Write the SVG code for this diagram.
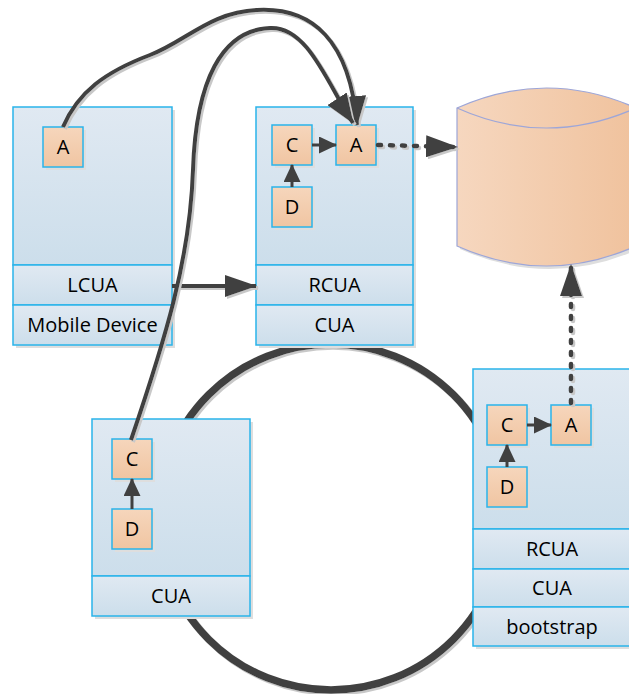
<svg xmlns="http://www.w3.org/2000/svg" width="629" height="694" viewBox="0 0 629 694">
<style>
.box{fill:url(#gBlue);stroke:#2ab4ea;stroke-width:1.5}
.sh{fill:#dedede}
.sm{fill:url(#gOrange);stroke:#2ab4ea;stroke-width:1.5}
.t{font-family:"Open Sans","DejaVu Sans",sans-serif;font-size:20px;fill:#000;text-anchor:middle}
.c{fill:none;stroke:#404040;stroke-width:4;filter:url(#ds)}
.d{fill:none;stroke:#404040;stroke-width:4.5;stroke-dasharray:3 9;stroke-linecap:round;filter:url(#ds)}
.s{fill:none;stroke:#404040;stroke-width:3}
</style>
<defs>
<linearGradient id="gBlue" x1="0" y1="0" x2="0" y2="1"><stop offset="0" stop-color="#e0e9f2"/><stop offset="1" stop-color="#ccdeeb"/></linearGradient>
<linearGradient id="gOrange" x1="0" y1="0" x2="0" y2="1"><stop offset="0" stop-color="#f6d6bc"/><stop offset="1" stop-color="#f0c5a2"/></linearGradient>
<linearGradient id="gCyl" x1="0" y1="0" x2="1" y2="0"><stop offset="0" stop-color="#f6d7bf"/><stop offset="1" stop-color="#f0c29d"/></linearGradient>
<filter id="ds" filterUnits="userSpaceOnUse" x="0" y="0" width="629" height="694"><feDropShadow dx="2" dy="2" stdDeviation="0.6" flood-color="#c8c8c8" flood-opacity="1"/></filter>
<marker id="big" markerUnits="userSpaceOnUse" markerWidth="32" markerHeight="22" refX="31" refY="11" orient="auto" viewBox="0 0 32 22"><path d="M0,0 L32,11 L0,22 z" fill="#404040"/></marker>
<marker id="mid" markerUnits="userSpaceOnUse" markerWidth="30" markerHeight="23" refX="29" refY="11.5" orient="auto" viewBox="0 0 30 23"><path d="M0,0 L30,11.5 L0,23 z" fill="#404040"/></marker>
<marker id="small" markerUnits="userSpaceOnUse" markerWidth="18" markerHeight="17" refX="17" refY="8.5" orient="auto" viewBox="0 0 18 17"><path d="M0,0 L18,8.5 L0,17 z" fill="#404040"/></marker>
</defs>

<g id="ring">
<circle cx="331" cy="517" r="173" fill="none" stroke="#404040" stroke-width="7.5" filter="url(#ds)"/>
</g>

<g id="database">
<path d="M460,111 Q549.5,71 639,111 L639,249 Q549.5,289 460,249 Z" fill="#dedede"/>
<path d="M457,108 Q546.5,68 636,108 L636,246 Q546.5,286 457,246 Z" fill="url(#gCyl)" stroke="#9da6d8" stroke-width="1.2"/>
<path d="M457,108 Q546.5,148 636,108" fill="none" stroke="#9da6d8" stroke-width="1.2"/>
</g>

<g id="mobile-device">
<rect class="sh" x="16" y="110" width="159" height="238"/>
<rect class="box" x="13" y="107" width="159" height="158"/>
<rect class="box" x="13" y="265" width="159" height="40"/>
<rect class="box" x="13" y="305" width="159" height="40"/>
<text class="t" x="92.5" y="292">LCUA</text>
<text class="t" x="92.5" y="332">Mobile Device</text>
<rect class="sh" x="46" y="130" width="40" height="40"/>
<rect class="sm" x="43" y="127" width="40" height="40"/>
<text class="t" x="63" y="154">A</text>
</g>

<g id="server-cua">
<rect class="sh" x="259" y="110" width="157" height="238"/>
<rect class="box" x="256" y="107" width="157" height="158"/>
<rect class="box" x="256" y="265" width="157" height="40"/>
<rect class="box" x="256" y="305" width="157" height="40"/>
<text class="t" x="334.5" y="292">RCUA</text>
<text class="t" x="334.5" y="332">CUA</text>
<rect class="sh" x="275" y="128" width="40" height="40"/>
<rect class="sm" x="272" y="125" width="40" height="40"/>
<text class="t" x="292" y="152">C</text>
<rect class="sh" x="339" y="128" width="40" height="40"/>
<rect class="sm" x="336" y="125" width="40" height="40"/>
<text class="t" x="356" y="152">A</text>
<rect class="sh" x="275" y="190" width="40" height="40"/>
<rect class="sm" x="272" y="187" width="40" height="40"/>
<text class="t" x="292" y="214">D</text>
<path class="s" d="M312,145 L336,145" marker-end="url(#small)"/>
<path class="s" d="M292,187 L292,165" marker-end="url(#small)"/>
</g>

<g id="peer-cua">
<rect class="sh" x="95" y="422" width="158" height="197"/>
<rect class="box" x="92" y="419" width="158" height="157"/>
<rect class="box" x="92" y="576" width="158" height="40"/>
<text class="t" x="171" y="603">CUA</text>
<rect class="sh" x="115" y="442" width="40" height="40"/>
<rect class="sm" x="112" y="439" width="40" height="40"/>
<text class="t" x="132" y="466">C</text>
<rect class="sh" x="115" y="512" width="40" height="40"/>
<rect class="sm" x="112" y="509" width="40" height="40"/>
<text class="t" x="132" y="536">D</text>
<path class="s" d="M132,509 L132,479" marker-end="url(#small)"/>
</g>

<g id="bootstrap-node">
<rect class="sh" x="476" y="372" width="158" height="277"/>
<rect class="box" x="473" y="369" width="158" height="160"/>
<rect class="box" x="473" y="529" width="158" height="40"/>
<rect class="box" x="473" y="569" width="158" height="38"/>
<rect class="box" x="473" y="607" width="158" height="39"/>
<text class="t" x="552" y="556">RCUA</text>
<text class="t" x="552" y="595">CUA</text>
<text class="t" x="552" y="634">bootstrap</text>
<rect class="sh" x="490" y="408" width="40" height="40"/>
<rect class="sm" x="487" y="405" width="40" height="40"/>
<text class="t" x="507" y="432">C</text>
<rect class="sh" x="554" y="408" width="40" height="40"/>
<rect class="sm" x="551" y="405" width="40" height="40"/>
<text class="t" x="571" y="432">A</text>
<rect class="sh" x="490" y="470" width="40" height="40"/>
<rect class="sm" x="487" y="467" width="40" height="40"/>
<text class="t" x="507" y="494">D</text>
<path class="s" d="M527,425 L551,425" marker-end="url(#small)"/>
<path class="s" d="M507,467 L507,445" marker-end="url(#small)"/>
</g>

<g id="connectors">
<path class="c" d="M172,286 L256,286" marker-end="url(#big)"/>
<path class="c" d="M63,127 C78,92 105,72 150,55 C185,42 210,12 257,10 C312,7 350,40 357,125" marker-end="url(#mid)"/>
<path class="c" d="M131,440 C165,340 190,260 193,170 C196,80 222,30 270,28 C308,26 328,85 353,123" marker-end="url(#mid)"/>
<path class="d" d="M378,145 L457,147" marker-end="url(#big)"/>
<path class="d" d="M571,403 L571,265" marker-end="url(#big)"/>
</g>
</svg>
